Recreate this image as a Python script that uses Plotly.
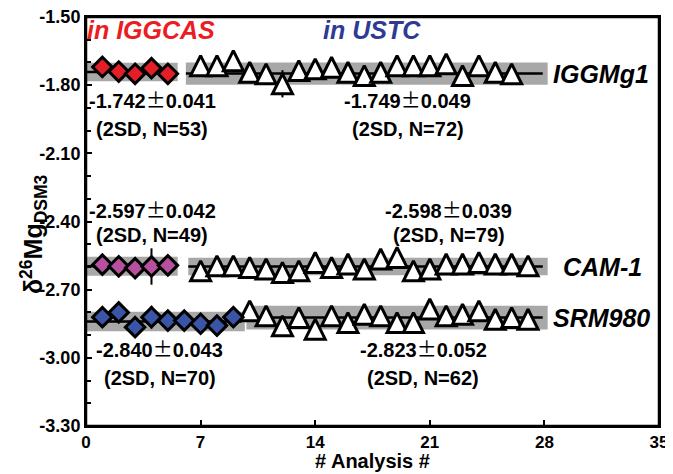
import plotly.graph_objects as go

# ---------------- data ----------------
# IGGCAS (diamonds)
igg_iggmg1_x = [1, 2, 3, 4, 5]
igg_iggmg1_y = [-1.720, -1.740, -1.750, -1.725, -1.750]
igg_iggmg1_err = [0.03, 0.03, 0.03, 0.03, 0.03]

igg_cam1_x = [1, 2, 3, 4, 5]
igg_cam1_y = [-2.590, -2.597, -2.605, -2.598, -2.593]
igg_cam1_err = [0.03, 0.03, 0.03, 0.08, 0.03]

igg_srm_x = [1, 2, 3, 4, 5, 6, 7, 8, 9]
igg_srm_y = [-2.821, -2.800, -2.865, -2.821, -2.836, -2.836, -2.850, -2.858, -2.821]
igg_srm_err = [0.03, 0.03, 0.03, 0.05, 0.03, 0.03, 0.03, 0.03, 0.03]

# USTC (triangles)
ustc_iggmg1_x = list(range(7, 27))
ustc_iggmg1_y = [-1.714, -1.714, -1.692, -1.743, -1.750, -1.794, -1.736, -1.728, -1.721, -1.743,
                 -1.758, -1.743, -1.714, -1.714, -1.714, -1.706, -1.758, -1.714, -1.743, -1.750]
ustc_iggmg1_err = [0.04] * 5 + [0.06] + [0.04] * 14

ustc_cam1_x = list(range(7, 28))
ustc_cam1_y = [-2.617, -2.595, -2.595, -2.602, -2.609, -2.624, -2.617, -2.580, -2.602, -2.587,
               -2.609, -2.565, -2.558, -2.617, -2.609, -2.587, -2.587, -2.580, -2.587, -2.587, -2.595]
ustc_cam1_err = [0.04] * 21

ustc_srm_x = list(range(10, 28))
ustc_srm_y = [-2.793, -2.815, -2.859, -2.823, -2.874, -2.815, -2.845, -2.808, -2.815, -2.845,
              -2.845, -2.785, -2.815, -2.808, -2.793, -2.830, -2.823, -2.830]
ustc_srm_err = [0.04] * 18

# long-term mean and 2SD bands
band_mean = [-1.742, -1.749, -2.597, -2.598, -2.840, -2.823]
band_2sd = [0.041, 0.049, 0.042, 0.039, 0.043, 0.052]
band_x0 = [0.0, 6.1, 0.0, 6.25, 0.0, 9.8]
band_x1 = [5.6, 28.2, 5.6, 28.2, 9.7, 28.2]
line_x1 = [5.5, 27.9, 5.5, 27.9, 9.5, 27.9]

stat_text = ["-1.742", "-1.749", "-2.597", "-2.598", "-2.840", "-2.823"]
stat_sd_text = ["0.041", "0.049", "0.042", "0.039", "0.043", "0.052"]
stat_n = [53, 72, 49, 79, 70, 62]
stat_x = [4.05, 19.65, 4.05, 22.15, 4.5, 20.6]
stat_y1 = [-1.864, -1.864, -2.345, -2.345, -2.959, -2.959]
stat_y2 = [-1.991, -1.991, -2.459, -2.459, -3.090, -3.090]

std_names = ["IGGMg1", "CAM-1", "SRM980"]
std_label_x = [28.4, 29.0, 28.4]
std_label_y = [-1.750, -2.600, -2.823]

x_ticks = [0, 7, 14, 21, 28, 35]
y_ticks = [-3.30, -3.00, -2.70, -2.40, -2.10, -1.80, -1.50]

# ---------------- styles ----------------
FONT = "Liberation Sans"
GRAY = "#a8a8a8"
RED = "#e31e26"
MAG = "#b7509f"
BLUE = "#3a55a6"
TXT_RED = "#ec1c24"
TXT_BLUE = "#2e3a94"

fig = go.Figure()

shapes = []
for i in range(len(band_mean)):
    shapes.append(dict(type="rect", xref="x", yref="y", layer="below",
                       x0=band_x0[i], x1=band_x1[i],
                       y0=band_mean[i] - band_2sd[i], y1=band_mean[i] + band_2sd[i],
                       fillcolor=GRAY, line=dict(width=0)))
# frame around the plotting area
shapes.append(dict(type="rect", xref="paper", yref="paper", x0=0, x1=1, y0=0, y1=1,
                   layer="above", line=dict(color="black", width=2.5),
                   fillcolor="rgba(0,0,0,0)"))

for i in range(len(band_mean)):
    fig.add_trace(go.Scatter(x=[band_x0[i], line_x1[i]], y=[band_mean[i], band_mean[i]],
                             mode="lines", line=dict(color="black", width=2.5),
                             hoverinfo="skip"))

def diamonds(x, y, err, color):
    fig.add_trace(go.Scatter(
        x=x, y=y, mode="markers",
        error_y=dict(type="data", array=err, visible=True, color="black", thickness=2, width=0),
        marker=dict(symbol="diamond", size=15, color=color, line=dict(color="black", width=3))))

def triangles(x, y, err):
    fig.add_trace(go.Scatter(
        x=x, y=y, mode="markers",
        error_y=dict(type="data", array=err, visible=True, color="black", thickness=2, width=0),
        marker=dict(symbol="arrow-down", angle=180, standoff=10, size=20, color="white",
                    line=dict(color="black", width=3))))

triangles(ustc_iggmg1_x, ustc_iggmg1_y, ustc_iggmg1_err)
triangles(ustc_cam1_x, ustc_cam1_y, ustc_cam1_err)
triangles(ustc_srm_x, ustc_srm_y, ustc_srm_err)
diamonds(igg_iggmg1_x, igg_iggmg1_y, igg_iggmg1_err, RED)
diamonds(igg_cam1_x, igg_cam1_y, igg_cam1_err, MAG)
diamonds(igg_srm_x, igg_srm_y, igg_srm_err, BLUE)

ann = []
pm = "<span style=\"font-family:'Noto Sans CJK SC';font-weight:normal\">±</span>"
for i in range(len(stat_text)):
    ann.append(dict(x=stat_x[i], y=stat_y1[i], xref="x", yref="y", showarrow=False,
                    text=stat_text[i] + pm + stat_sd_text[i],
                    font=dict(family=FONT, size=20, color="black", weight="bold"),
                    xanchor="center", yanchor="middle"))
    ann.append(dict(x=stat_x[i], y=stat_y2[i], xref="x", yref="y", showarrow=False,
                    text="(2SD, N=%d)" % stat_n[i],
                    font=dict(family=FONT, size=20, color="black", weight="bold"),
                    xanchor="center", yanchor="middle"))
for i in range(len(std_names)):
    ann.append(dict(x=std_label_x[i], y=std_label_y[i], xref="x", yref="y", showarrow=False,
                    text="<i>" + std_names[i] + "</i>",
                    font=dict(family=FONT, size=25, color="black", weight="bold"),
                    xanchor="left", yanchor="middle"))
ann.append(dict(x=4.0, y=-1.557, xref="x", yref="y", showarrow=False, text="<i>in IGGCAS</i>",
                font=dict(family=FONT, size=25, color=TXT_RED, weight="bold"),
                xanchor="center", yanchor="middle"))
ann.append(dict(x=17.45, y=-1.557, xref="x", yref="y", showarrow=False, text="<i>in USTC</i>",
                font=dict(family=FONT, size=25, color=TXT_BLUE, weight="bold"),
                xanchor="center", yanchor="middle"))
# axis titles
ann.append(dict(x=0.5, y=-0.085, xref="paper", yref="paper", showarrow=False,
                text="# Analysis #",
                font=dict(family=FONT, size=20, color="black", weight="bold"),
                xanchor="center", yanchor="middle"))
ann.append(dict(x=-0.092, y=0.47, xref="paper", yref="paper", showarrow=False,
                text="δ<sup>26</sup>Mg<sub>DSM3</sub>", textangle=-90,
                font=dict(family=FONT, size=25, color="black", weight="bold"),
                xanchor="center", yanchor="middle"))

# the page body adds an 8 px offset, so the figure is sized to fit the 673x474 window
fig.update_layout(
    width=665, height=466,
    margin=dict(l=78, r=14, t=9, b=48),
    plot_bgcolor="white", paper_bgcolor="white",
    showlegend=False,
    shapes=shapes, annotations=ann,
    xaxis=dict(range=[0, 35], tickvals=x_ticks, ticktext=[str(v) for v in x_ticks],
               ticks="inside", ticklen=6, tickwidth=2, tickcolor="black",
               showline=True, linewidth=2, linecolor="black", mirror=True,
               showgrid=False, zeroline=False, automargin=False, ticklabeloverflow="allow",
               tickfont=dict(family=FONT, size=17, color="black", weight="bold")),
    yaxis=dict(range=[-3.30, -1.50], tickvals=y_ticks, ticktext=["%.2f" % v for v in y_ticks],
               ticks="inside", ticklen=6, tickwidth=2, tickcolor="black",
               minor=dict(tick0=-1.5, dtick=0.1, ticks="inside", ticklen=5, tickwidth=2,
                          tickcolor="black", showgrid=False),
               showline=True, linewidth=2, linecolor="black", mirror=True,
               showgrid=False, zeroline=False, automargin=False, ticklabeloverflow="allow",
               tickfont=dict(family=FONT, size=18, color="black", weight="bold")),
)

fig.write_html("out.html")
